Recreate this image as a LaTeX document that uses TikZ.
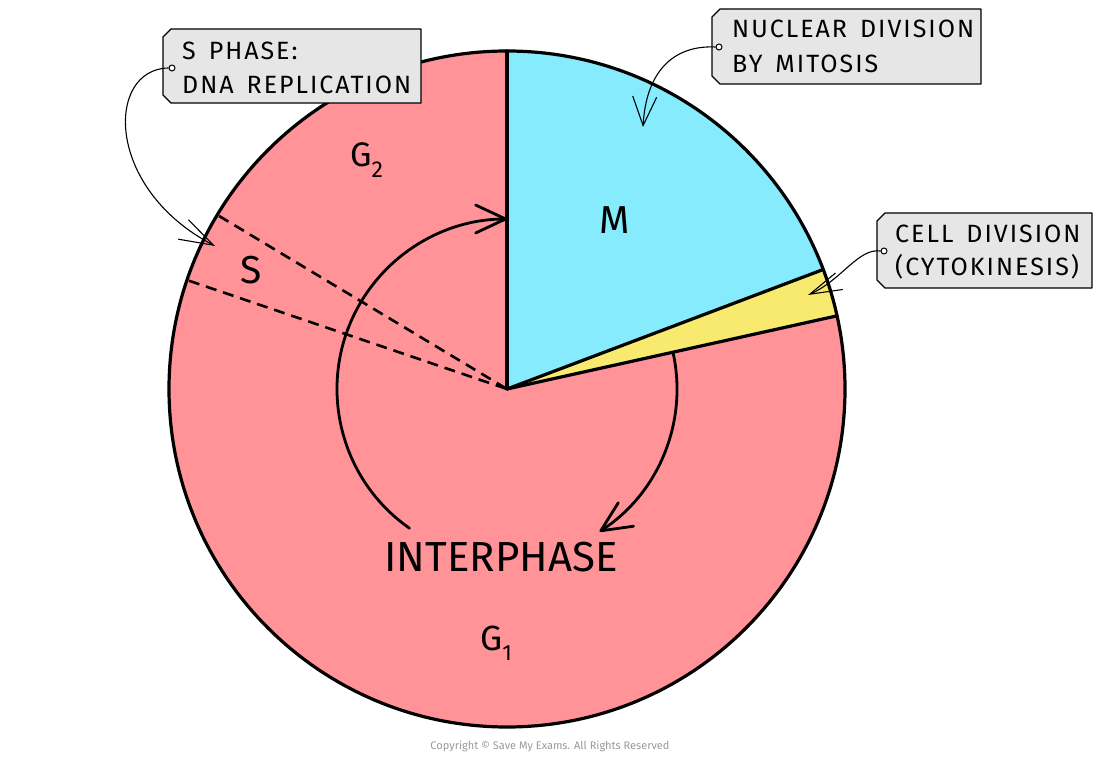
\documentclass[tikz,border=0pt]{standalone}
\usepackage{fontspec}
\setmainfont{Fira Sans}
\newfontfamily\labfont[LetterSpace=8,WordSpace=1.5]{Fira Sans}
\usetikzlibrary{arrows.meta}
\definecolor{gpink}{HTML}{FF9398}
\definecolor{mcyan}{HTML}{86EBFD}
\definecolor{cyel}{HTML}{F8EA6F}
\definecolor{boxgray}{HTML}{E6E6E6}
\tikzset{
  outline/.style={line width=3.2pt, line join=round, line cap=round},
  sdash/.style={line width=2.6pt, dash pattern=on 11pt off 7pt},
  cycarrow/.style={line width=2.8pt, line cap=round, -{Straight Barb[length=30pt,width=28pt,round]}},
  leader/.style={line width=1.1pt},
  labbox/.style={draw=black, fill=boxgray, line width=1.3pt, line join=round},
  labtext/.style={anchor=base west, inner sep=0pt, font=\labfont\fontsize{25}{25}\selectfont},
  dotnode/.style={circle, draw=black, fill=white, line width=1pt, inner sep=0pt, minimum size=6pt},
  bigtext/.style={inner sep=0pt, font=\fontsize{34}{34}\selectfont},
}
\begin{document}
\begin{tikzpicture}[x=1pt,y=1pt]
\useasboundingbox (0,0) rectangle (1100,758);
\coordinate (C) at (507,369);
% main disc
\fill[gpink] (C) circle[radius=338pt];
\fill[mcyan] (C) -- ++(90:338pt) arc[start angle=90,end angle=20.7,radius=338pt] -- cycle;
\fill[cyel] (C) -- ++(20.7:338pt) arc[start angle=20.7,end angle=12.5,radius=338pt] -- cycle;
\draw[outline] (C) -- ++(90:338pt);
\draw[outline] (C) -- ++(20.7:338pt);
\draw[outline] (C) -- ++(12.5:338pt);
\draw[outline] (C) circle[radius=338pt];
% S phase dashed lines
\draw[sdash] (C) ++(149:336pt) -- (C);
\draw[sdash] (C) ++(161.2:336pt) -- (C);
% cycle arrows
\draw[cycarrow] (C) ++(235:170pt) arc[start angle=235,end angle=90,radius=170pt];
\draw[cycarrow] (C) ++(12:170pt) arc[start angle=12,end angle=-57,radius=170pt];
% big labels
\node[bigtext, anchor=base west] (g2) at (350,591) {G\raisebox{-11pt}{\fontsize{23}{23}\selectfont 2}};
\node[bigtext, anchor=base, font=\fontsize{39}{39}\selectfont] (m) at (615,524) {M};
\node[bigtext, anchor=base, font=\fontsize{39}{39}\selectfont] (s) at (251,474) {S};
\node[bigtext, anchor=base, font=\fontsize{42}{42}\selectfont] (inter) at (501,186) {INTERPHASE};
\node[bigtext, anchor=base west, font=\fontsize{35}{35}\selectfont] (g1) at (480,108) {G\raisebox{-10pt}{\fontsize{22}{22}\selectfont 1}};
% box 1
\draw[labbox] (171,729) -- (421,729) -- (421,655) -- (171,655) -- (163,663) -- (163,721) -- cycle;
\node[labtext] (b1a) at (182,698) {S PHASE:};
\node[labtext] (b1b) at (182,664) {DNA REPLICATION};
\node[dotnode] (dot1) at (172,690) {};
\coordinate (tip1) at (215,512);
\draw[leader, -{Straight Barb[length=34pt,width=22pt]}] (dot1.west) .. controls (106,689) and (104,570) .. (tip1);
% box 2
\draw[labbox] (720,749) -- (981,749) -- (981,674) -- (720,674) -- (712,682) -- (712,741) -- cycle;
\node[labtext] (b2a) at (732,720) {NUCLEAR DIVISION};
\node[labtext] (b2b) at (732,685) {BY MITOSIS};
\node[dotnode] (dot2) at (719,711) {};
\coordinate (tip2) at (643,631);
\draw[leader, -{Straight Barb[length=29pt,width=24pt]}] (dot2.west) .. controls (672,713) and (646,685) .. (tip2);
% box 3
\draw[labbox] (885,545) -- (1092,545) -- (1092,470) -- (885,470) -- (877,478) -- (877,537) -- cycle;
\node[labtext] (b3a) at (895,515) {CELL DIVISION};
\node[labtext] (b3b) at (895,482) {(CYTOKINESIS)};
\node[dotnode] (dot3) at (884,507) {};
\coordinate (tip3) at (808,463);
\draw[leader, -{Straight Barb[length=32pt,width=18pt]}] (dot3.west) .. controls (858,510) and (842,478) .. (tip3);
% copyright
\node[inner sep=0pt, text=black!40, font=\fontsize{11}{11}\selectfont] (copy) at (550,12) {Copyright © Save My Exams. All Rights Reserved};
\end{tikzpicture}
\end{document}
